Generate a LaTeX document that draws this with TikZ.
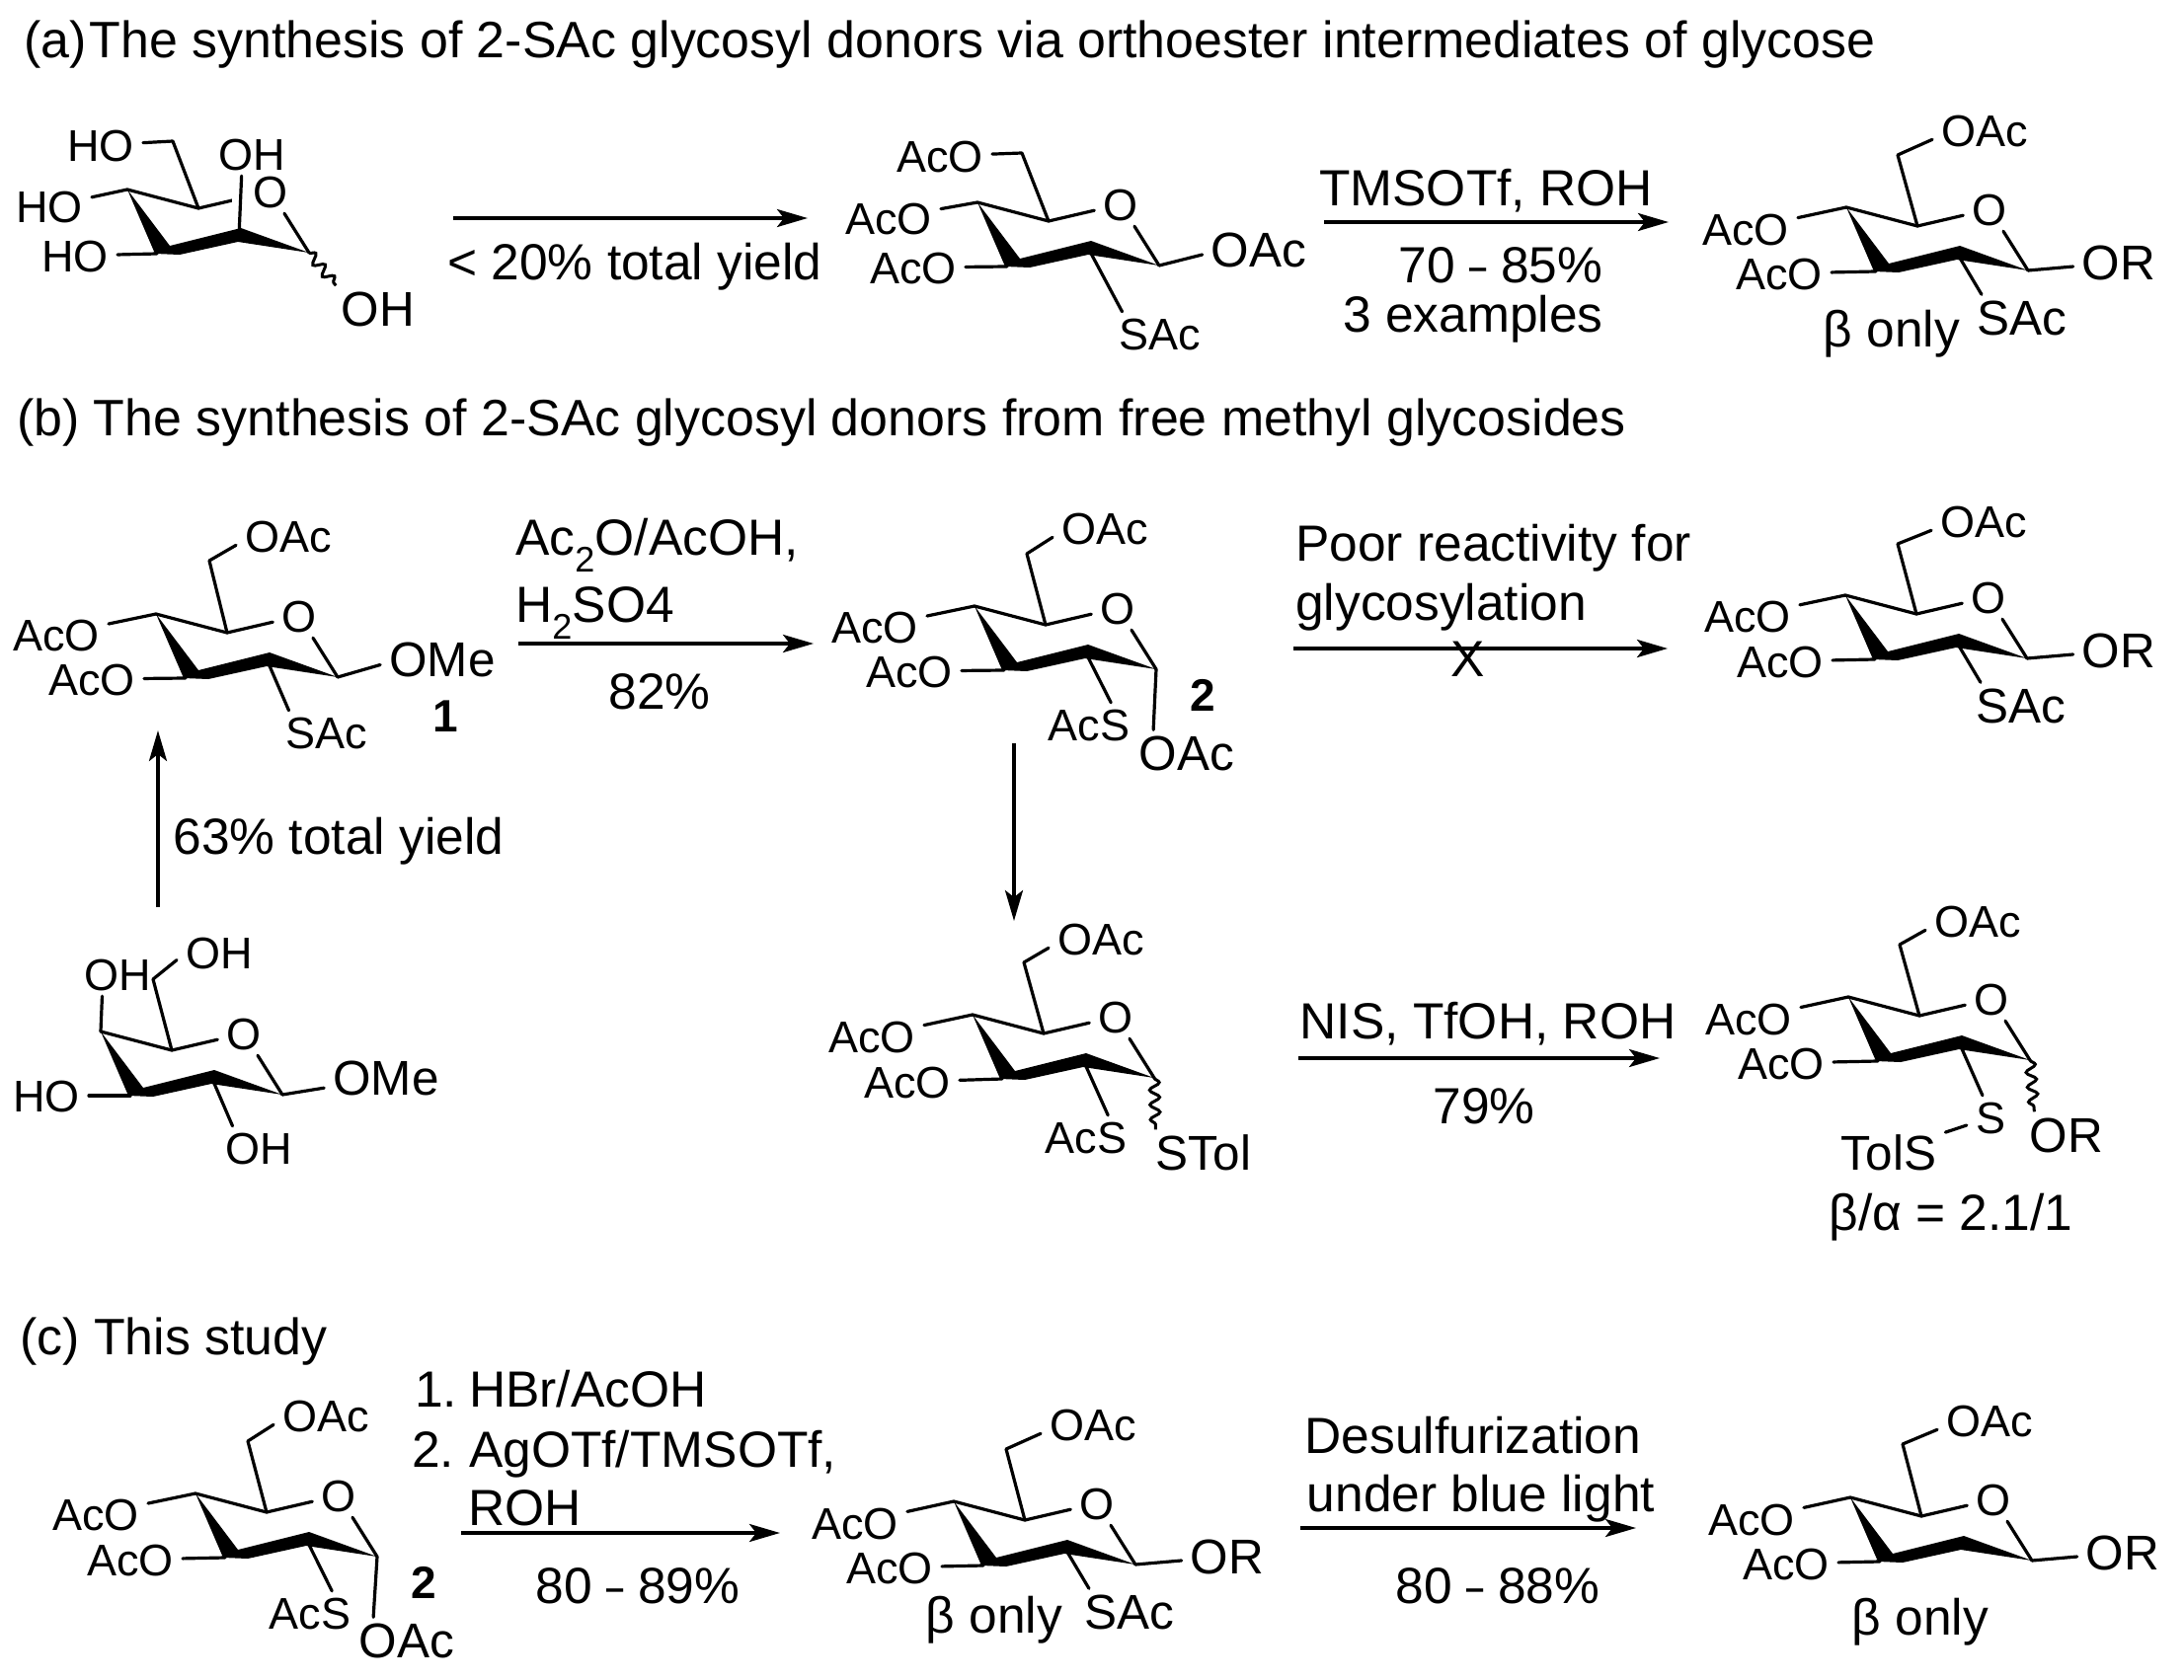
\documentclass[tikz,border=0pt]{standalone}
\usepackage{fontspec}
\setmainfont{Liberation Sans}
\usetikzlibrary{arrows.meta,decorations.pathmorphing}
\newcommand{\sdash}{\scalebox{0.6}[1]{–}}
\tikzset{
    txt/.style={font=\fontsize{51.5}{56}\selectfont, inner sep=0pt, text height=37pt, text depth=0pt},
    ttl/.style={font=\fontsize{51.9}{56}\selectfont, inner sep=0pt, text height=37pt, text depth=0pt, anchor=west},
    lab/.style={font=\fontsize{45}{50}\selectfont, inner xsep=9pt, inner ysep=6pt, text height=32pt, text depth=0pt},
    blab/.style={font=\fontsize{49.5}{50}\selectfont, inner xsep=9pt, inner ysep=6pt, text height=35pt, text depth=0pt},
    num/.style={font=\fontsize{46}{50}\selectfont\bfseries, inner sep=0pt, text height=33pt, text depth=0pt},
    bond/.style={line width=3.2pt, line cap=round, line join=round},
    wavy/.style={line width=3pt, decorate, decoration={snake, segment length=15pt, amplitude=5pt}},
    arr/.style={line width=3.6pt, -{Stealth[length=31pt, width=18pt, inset=7pt]}},
}
% ring: name, position of C4, offset of C6 from C4
\newcommand{\sugar}[5]{
    \begin{scope}[shift={(#2,#3)}]
        \coordinate (#1-c4) at (0,0);
        \coordinate (#1-c5) at (72,19);
        \coordinate (#1-c1) at (184,64);
        \coordinate (#1-c2) at (113,48);
        \coordinate (#1-c3) at (30,65);
        \coordinate (#1-c6) at (#4,#5);
        \node[lab] (#1-o) at (145,2) {O};
        \draw[bond] (#1-c4) -- (#1-c5) -- (#1-o);
        \draw[bond] (#1-o) -- (#1-c1);
        \fill (0,0) -- (43,57) -- (115,39) -- (184,64) -- (112,53) -- (53,66) -- (28,65) -- cycle;
    \end{scope}
}
\begin{document}
\begin{tikzpicture}[x=1pt,y=-1pt]
    \useasboundingbox (0,0) rectangle (2212,1702);

    % titles
    \node[ttl] (ta) at (24,40) {(a)\hspace{3pt}The synthesis of 2-SAc glycosyl donors via orthoester intermediates of glycose};
    \node[ttl] (tb) at (17,423) {(b) The synthesis of 2-SAc glycosyl donors from free methyl glycosides};
    \node[ttl] (tc) at (20,1354) {(c) This study};

    % row a, free sugar
    \sugar{a}{129}{192}{46}{-49}
    \node[lab] (a-l6) at (102,147) {HO};
    \node[lab] (a-l4) at (50,209) {HO};
    \node[lab] (a-l3) at (76,259) {HO};
    \node[lab] (a-l2) at (255,156) {OH};
    \node[blab] (a-l1) at (383,313) {OH};
    \draw[bond] (a-c5) -- (a-c6) -- (a-l6);
    \draw[bond] (a-c4) -- (a-l4);
    \draw[bond] (a-c3) -- (a-l3);
    \draw[white, line width=16pt] (243,195) -- (243,215);
    \draw[bond] (a-c2) -- (a-l2.245);
    \draw[wavy] (a-c1) -- (a-l1.151);

    \coordinate (a1s) at (459,221);
    \coordinate (a1e) at (818,221);
    \draw[arr] (a1s) -- (a1e);
    \node[txt] (a1t) at (643,265) {< 20\% total yield};

    % row a, SAc tetraacetate
    \sugar{b}{990}{205}{45}{-50}
    \node[lab] (b-l6) at (952,158) {AcO};
    \node[lab] (b-l4) at (900,221) {AcO};
    \node[lab] (b-l3) at (925,271) {AcO};
    \node[blab] (b-l1) at (1275,253) {OAc};
    \node[lab] (b-l2) at (1175,338) {SAc};
    \draw[bond] (b-c5) -- (b-c6) -- (b-l6);
    \draw[bond] (b-c4) -- (b-l4);
    \draw[bond] (b-c3) -- (b-l3);
    \draw[bond] (b-c1) -- (b-l1.185);
    \draw[bond] (b-c2) -- (b-l2.150);

    \coordinate (a2s) at (1341,225);
    \coordinate (a2e) at (1690,225);
    \draw[arr] (a2s) -- (a2e);
    \node[txt] (a2t) at (1505,190) {TMSOTf, ROH};
    \node[txt] (a2y) at (1520,268) {70 \sdash{} 85\%};
    \node[txt] (a2n) at (1492,318) {3 examples};

    % row a, product
    \sugar{c}{1870}{210}{52}{-53}
    \node[lab] (c-l6) at (2010,132) {OAc};
    \node[lab] (c-l4) at (1768,232) {AcO};
    \node[lab] (c-l3) at (1802,277) {AcO};
    \node[blab] (c-l1) at (2146,266) {OR};
    \node[blab] (c-l2) at (2048,322) {SAc};
    \node[txt] (c-n) at (1916,333) {β only};
    \draw[bond] (c-c5) -- (c-c6) -- (c-l6.190);
    \draw[bond] (c-c4) -- (c-l4);
    \draw[bond] (c-c3) -- (c-l3);
    \draw[bond] (c-c1) -- (c-l1);
    \draw[bond] (c-c2) -- (c-l2.150);

    % row b, compound 1
    \sugar{d}{158}{622}{54}{-54}
    \node[lab] (d-l6) at (292,543) {OAc};
    \node[lab] (d-l4) at (57,643) {AcO};
    \node[lab] (d-l3) at (93,688) {AcO};
    \node[blab] (d-l1) at (448,668) {OMe};
    \node[lab] (d-l2) at (331,742) {SAc};
    \node[num] (d-n) at (451,725) {1};
    \draw[bond] (d-c5) -- (d-c6) -- (d-l6.190);
    \draw[bond] (d-c4) -- (d-l4);
    \draw[bond] (d-c3) -- (d-l3);
    \draw[bond] (d-c1) -- (d-l1.185);
    \draw[bond] (d-c2) -- (d-l2.150);

    % row b, methyl glycoside
    \sugar{e}{102}{1045}{53}{-53}
    \node[lab] (e-l6) at (222,965) {OH};
    \node[lab] (e-l4) at (119,987) {OH};
    \node[lab] (e-l3) at (47,1110) {HO};
    \node[blab] (e-l1) at (391,1092) {OMe};
    \node[lab] (e-l2) at (262,1163) {OH};
    \draw[bond] (e-c5) -- (e-c6) -- (e-l6.190);
    \draw[bond] (e-c4) -- (e-l4.235);
    \draw[bond] (e-c3) -- (e-l3);
    \draw[bond] (e-c1) -- (e-l1);
    \draw[bond] (e-c2) -- (e-l2.140);

    \coordinate (b0s) at (160,919);
    \coordinate (b0e) at (160,740);
    \draw[arr] (b0s) -- (b0e);
    \node[txt] (b0t) at (343,847) {63\% total yield};

    \coordinate (b1s) at (525,652);
    \coordinate (b1e) at (824,652);
    \draw[arr] (b1s) -- (b1e);
    \node[txt, anchor=west] (b1a) at (522,544) {Ac\textsubscript{2}O/AcOH,};
    \node[txt, anchor=west] (b1b) at (522,612) {H\textsubscript{2}SO4};
    \node[txt] (b1y) at (668,700) {82\%};

    % row b, compound 2
    \sugar{f}{987}{614}{53}{-53}
    \node[lab] (f-l6) at (1119,535) {OAc};
    \node[lab] (f-l4) at (886,635) {AcO};
    \node[lab] (f-l3) at (921,680) {AcO};
    \node[blab] (f-l1) at (1202,763) {OAc};
    \node[lab] (f-l2) at (1103,734) {AcS};
    \node[num] (f-n) at (1218,704) {2};
    \draw[bond] (f-c5) -- (f-c6) -- (f-l6.190);
    \draw[bond] (f-c4) -- (f-l4);
    \draw[bond] (f-c3) -- (f-l3);
    \draw[bond] (f-c1) -- (f-l1.145);
    \draw[bond] (f-c2) -- (f-l2.45);

    \coordinate (b2s) at (1310,657);
    \coordinate (b2e) at (1689,657);
    \draw[arr] (b2s) -- (b2e);
    \node[txt, anchor=west] (b2a) at (1312,550) {Poor reactivity for};
    \node[txt, anchor=west] (b2b) at (1312,610) {glycosylation};
    \node[txt] (b2x) at (1487,667) {X};

    % row b, product not formed
    \sugar{h}{1869}{603}{53}{-52}
    \node[lab] (h-l6) at (2009,528) {OAc};
    \node[lab] (h-l4) at (1770,624) {AcO};
    \node[lab] (h-l3) at (1803,670) {AcO};
    \node[blab] (h-l1) at (2146,659) {OR};
    \node[blab] (h-l2) at (2047,715) {SAc};
    \draw[bond] (h-c5) -- (h-c6) -- (h-l6.190);
    \draw[bond] (h-c4) -- (h-l4);
    \draw[bond] (h-c3) -- (h-l3);
    \draw[bond] (h-c1) -- (h-l1);
    \draw[bond] (h-c2) -- (h-l2.150);

    \coordinate (b3s) at (1027,753);
    \coordinate (b3e) at (1027,933);
    \draw[arr] (b3s) -- (b3e);

    % row b, thioglycoside
    \sugar{g}{985}{1028}{52}{-53}
    \node[lab] (g-l6) at (1115,951) {OAc};
    \node[lab] (g-l4) at (883,1050) {AcO};
    \node[lab] (g-l3) at (919,1096) {AcO};
    \node[blab] (g-l1) at (1219,1168) {STol};
    \node[lab] (g-l2) at (1100,1152) {AcS};
    \draw[bond] (g-c5) -- (g-c6) -- (g-l6.190);
    \draw[bond] (g-c4) -- (g-l4);
    \draw[bond] (g-c3) -- (g-l3);
    \draw[wavy] (g-c1) -- (g-l1.154);
    \draw[bond] (g-c2) -- (g-l2.45);

    \coordinate (b4s) at (1315,1072);
    \coordinate (b4e) at (1681,1072);
    \draw[arr] (b4s) -- (b4e);
    \node[txt] (b4t) at (1507,1034) {NIS, TfOH, ROH};
    \node[txt] (b4y) at (1503,1120) {79\%};

    % row b, disulfide product
    \sugar{i}{1872}{1010}{52}{-53}
    \node[lab] (i-l6) at (2003,933) {OAc};
    \node[lab] (i-l4) at (1771,1032) {AcO};
    \node[lab] (i-l3) at (1804,1077) {AcO};
    \node[blab] (i-l1) at (2093,1150) {OR};
    \node[lab] (i-s) at (2016,1132) {S};
    \node[blab] (i-tol) at (1913,1168) {TolS};
    \node[txt] (i-n) at (1976,1228) {β/α = 2.1/1};
    \draw[bond] (i-c5) -- (i-c6) -- (i-l6.190);
    \draw[bond] (i-c4) -- (i-l4);
    \draw[bond] (i-c3) -- (i-l3);
    \draw[wavy] (i-c1) -- (i-l1.144);
    \draw[bond] (i-c2) -- (i-s.110);
    \draw[bond] (i-s) -- (i-tol.20);

    % row c, compound 2
    \sugar{j}{198}{1513}{53}{-53}
    \node[lab] (j-l6) at (330,1434) {OAc};
    \node[lab] (j-l4) at (97,1534) {AcO};
    \node[lab] (j-l3) at (132,1580) {AcO};
    \node[blab] (j-l1) at (412,1662) {OAc};
    \node[lab] (j-l2) at (314,1634) {AcS};
    \node[num] (j-n) at (429,1603) {2};
    \draw[bond] (j-c5) -- (j-c6) -- (j-l6.190);
    \draw[bond] (j-c4) -- (j-l4);
    \draw[bond] (j-c3) -- (j-l3);
    \draw[bond] (j-c1) -- (j-l1.145);
    \draw[bond] (j-c2) -- (j-l2.45);

    \coordinate (c1s) at (467,1553);
    \coordinate (c1e) at (790,1553);
    \draw[arr] (c1s) -- (c1e);
    \node[txt, anchor=west] (c1a) at (420,1407) {1.\hspace{12pt}HBr/AcOH};
    \node[txt, anchor=west] (c1b) at (417,1468) {2.\hspace{15pt}AgOTf/TMSOTf,};
    \node[txt, anchor=west] (c1c) at (474,1527) {ROH};
    \node[txt] (c1y) at (646,1606) {80 \sdash{} 89\%};

    % row c, glycoside
    \sugar{k}{966}{1521}{53}{-53}
    \node[lab] (k-l6) at (1107,1443) {OAc};
    \node[lab] (k-l4) at (866,1543) {AcO};
    \node[lab] (k-l3) at (901,1588) {AcO};
    \node[blab] (k-l1) at (1243,1577) {OR};
    \node[blab] (k-l2) at (1144,1633) {SAc};
    \node[txt] (k-n) at (1007,1636) {β only};
    \draw[bond] (k-c5) -- (k-c6) -- (k-l6.190);
    \draw[bond] (k-c4) -- (k-l4);
    \draw[bond] (k-c3) -- (k-l3);
    \draw[bond] (k-c1) -- (k-l1);
    \draw[bond] (k-c2) -- (k-l2.150);

    \coordinate (c2s) at (1317,1548);
    \coordinate (c2e) at (1657,1548);
    \draw[arr] (c2s) -- (c2e);
    \node[txt] (c2a) at (1492,1454) {Desulfurization};
    \node[txt] (c2b) at (1500,1513) {under blue light};
    \node[txt] (c2y) at (1517,1606) {80 \sdash{} 88\%};

    % row c, desulfurized glycoside
    \sugar{l}{1874}{1517}{53}{-54}
    \node[lab] (l-l6) at (2015,1439) {OAc};
    \node[lab] (l-l4) at (1774,1539) {AcO};
    \node[lab] (l-l3) at (1809,1584) {AcO};
    \node[blab] (l-l1) at (2150,1573) {OR};
    \node[txt] (l-n) at (1945,1638) {β only};
    \draw[bond] (l-c5) -- (l-c6) -- (l-l6.190);
    \draw[bond] (l-c4) -- (l-l4);
    \draw[bond] (l-c3) -- (l-l3);
    \draw[bond] (l-c1) -- (l-l1);
\end{tikzpicture}
\end{document}
